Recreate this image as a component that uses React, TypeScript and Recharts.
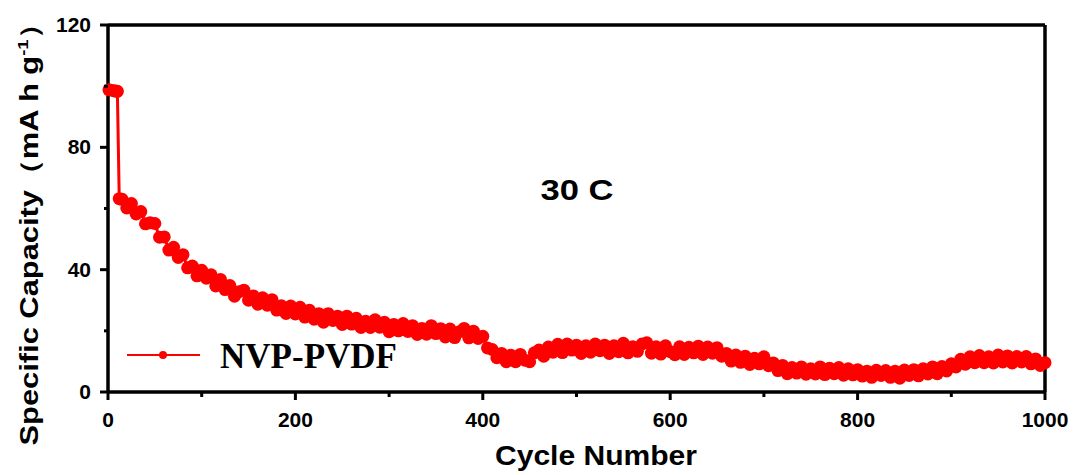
import { Customized, Line, LineChart, ReferenceLine, XAxis, YAxis } from "recharts"

const cycles = [
  1, 5, 8, 10, 12,
  15, 20, 25, 30, 35, 40, 45, 50, 55, 60,
  65, 70, 75, 80, 85, 90, 95, 100, 105, 110,
  115, 120, 125, 130, 135, 140, 145, 150, 155, 160,
  165, 170, 175, 180, 185, 190, 195, 200, 205, 210,
  215, 220, 225, 230, 235, 240, 245, 250, 255, 260,
  265, 270, 275, 280, 285, 290, 295, 300, 305, 310,
  315, 320, 325, 330, 335, 340, 345, 350, 355, 360,
  365, 370, 375, 380, 385, 390, 395, 400, 405, 410,
  415, 420, 425, 430, 435, 440, 445, 450, 455, 460,
  465, 470, 475, 480, 485, 490, 495, 500, 505, 510,
  515, 520, 525, 530, 535, 540, 545, 550, 555, 560,
  565, 570, 575, 580, 585, 590, 595, 600, 605, 610,
  615, 620, 625, 630, 635, 640, 645, 650, 655, 660,
  665, 670, 675, 680, 685, 690, 695, 700, 705, 710,
  715, 720, 725, 730, 735, 740, 745, 750, 755, 760,
  765, 770, 775, 780, 785, 790, 795, 800, 805, 810,
  815, 820, 825, 830, 835, 840, 845, 850, 855, 860,
  865, 870, 875, 880, 885, 890, 895, 900, 905, 910,
  915, 920, 925, 930, 935, 940, 945, 950, 955, 960,
  965, 970, 975, 980, 985, 990, 995, 1000,
]

const capacity = [
  98.8, 98.6, 98.4, 98.3, 63.2,
  63.0, 60.2, 61.6, 58.2, 59.0, 55.0, 55.3, 55.1, 50.6, 50.7,
  46.4, 47.3, 44.0, 44.9, 40.6, 41.2, 38.0, 39.8, 37.2, 38.3,
  34.7, 36.8, 33.5, 34.8, 31.3, 32.8, 33.3, 30.0, 31.4, 28.7,
  30.8, 28.4, 30.2, 26.8, 28.2, 25.7, 28.1, 25.5, 27.7, 24.5,
  26.7, 23.8, 25.6, 22.8, 25.6, 23.4, 24.8, 22.1, 24.8, 22.2,
  24.1, 21.1, 23.1, 21.1, 23.6, 21.2, 22.8, 19.7, 22.1, 20.0,
  22.4, 19.8, 21.7, 18.8, 20.8, 18.9, 21.7, 19.1, 20.7, 18.0,
  20.6, 17.8, 19.7, 20.8, 17.7, 19.9, 17.5, 18.2, 14.4, 13.9,
  11.2, 12.6, 9.9, 12.0, 9.9, 12.3, 10.4, 9.9, 12.8, 13.7,
  11.7, 14.7, 13.0, 15.6, 12.9, 15.7, 13.7, 15.3, 12.6, 15.1,
  13.0, 15.7, 13.5, 15.3, 12.6, 15.1, 13.2, 15.9, 12.8, 14.8,
  13.3, 15.7, 16.1, 12.7, 14.8, 12.4, 15.1, 13.2, 12.2, 14.8,
  12.3, 14.6, 12.8, 15.0, 12.3, 14.7, 12.7, 14.5, 11.7, 12.6,
  10.1, 12.1, 9.7, 11.7, 9.0, 11.0, 9.2, 11.5, 8.6, 9.5,
  7.0, 8.7, 6.0, 8.0, 6.2, 8.2, 5.8, 7.6, 5.9, 8.2,
  5.7, 7.8, 6.0, 8.0, 5.5, 7.6, 5.6, 7.3, 5.2, 6.8,
  4.8, 7.1, 5.4, 7.0, 4.8, 6.8, 4.5, 7.2, 5.4, 7.3,
  5.3, 7.6, 5.9, 8.2, 6.0, 8.3, 6.9, 9.2, 8.2, 10.7,
  9.1, 11.5, 9.6, 11.9, 9.6, 11.5, 9.5, 12.1, 9.8, 11.8,
  9.5, 11.6, 9.8, 11.6, 9.2, 10.8, 8.7, 9.6,
]

const xTicks = [0, 100, 200, 300, 400, 500, 600, 700, 800, 900, 1000]
const yTicks = [0, 20, 40, 60, 80, 100, 120]
const xLabeled = [0, 200, 400, 600, 800, 1000]
const yLabeled = [0, 40, 80, 120]

const data = cycles.map((c, i) => ({ cycle: c, capacity: capacity[i] }))

const sans = "'Liberation Sans', Arial, sans-serif"
const serif = "'Liberation Serif', 'Times New Roman', serif"
const red = "#ff0000"

// axis sits at x=108 / y=392 (tickSize and tickMargin are 0)
function renderYTick(props: any) {
  const { y, payload } = props
  const x = 108
  const major = yLabeled.includes(payload.value)
  return (
    <g key={"y" + payload.value}>
      <line x1={x - (major ? 8 : 4)} x2={x} y1={y} y2={y} stroke="#000" strokeWidth={3} />
      {major && (
        <text x={x - 17} y={y + 7} textAnchor="end" fontFamily={sans} fontWeight="bold" fontSize={21} fill="#000">
          {payload.value}
        </text>
      )}
    </g>
  )
}

function renderXTick(props: any) {
  const { x, payload } = props
  const y = 392
  const major = xLabeled.includes(payload.value)
  return (
    <g key={"x" + payload.value}>
      <line x1={x} x2={x} y1={y} y2={y + (major ? 8 : 5)} stroke="#000" strokeWidth={3} />
      {major && (
        <text x={x} y={y + 35} textAnchor="middle" fontFamily={sans} fontWeight="bold" fontSize={21} fill="#000">
          {payload.value}
        </text>
      )}
    </g>
  )
}

function Decorations() {
  return (
    <g>
      <text
        transform="translate(38, 227) rotate(-90)"
        textAnchor="middle"
        fontFamily={sans}
        fontWeight="bold"
        fontSize={25}
        fill="#000"
        textLength={437}
        lengthAdjust="spacingAndGlyphs"
      >
        Specific Capacity（mA h g
        <tspan fontSize={15} dy={-10}>-1</tspan>
        <tspan dy={10}>）</tspan>
      </text>
      <text
        x={596}
        y={465}
        textAnchor="middle"
        fontFamily={sans}
        fontWeight="bold"
        fontSize={27}
        fill="#000"
        textLength={202}
        lengthAdjust="spacingAndGlyphs"
      >
        Cycle Number
      </text>
      <text
        x={577}
        y={200}
        textAnchor="middle"
        fontFamily={sans}
        fontWeight="bold"
        fontSize={30}
        fill="#000"
        textLength={73}
        lengthAdjust="spacingAndGlyphs"
      >
        30 C
      </text>
      <line x1={127} x2={200} y1={355} y2={355} stroke={red} strokeWidth={2} />
      <circle cx={163} cy={355} r={4} fill={red} />
      <text x={220} y={368} fontFamily={serif} fontWeight="bold" fontSize={36} fill="#000" textLength={177} lengthAdjust="spacingAndGlyphs">
        NVP-PVDF
      </text>
    </g>
  )
}

export default function App() {
  return (
    <div style={{ position: "absolute", left: 0, top: 0, background: "#fff" }}>
      <LineChart width={1075} height={475} data={data} margin={{ top: 25, right: 30, left: 0, bottom: 0 }}>
        <XAxis
          dataKey="cycle"
          type="number"
          domain={[0, 1000]}
          ticks={xTicks}
          height={83}
          tickSize={0}
          tickMargin={0}
          tickLine={false}
          axisLine={{ stroke: "#000", strokeWidth: 3.5 }}
          tick={renderXTick}
          interval={0}
        />
        <YAxis
          type="number"
          domain={[0, 120]}
          ticks={yTicks}
          width={108}
          tickSize={0}
          tickMargin={0}
          tickLine={false}
          axisLine={{ stroke: "#000", strokeWidth: 3.5 }}
          tick={renderYTick}
          interval={0}
        />
        <Line
          dataKey="capacity"
          stroke={red}
          strokeWidth={3}
          dot={{ r: 6.5, fill: red, stroke: red, strokeWidth: 0 }}
          isAnimationActive={false}
        />
        <ReferenceLine y={120} stroke="#000" strokeWidth={3.5} />
        <ReferenceLine x={1000} stroke="#000" strokeWidth={3.5} />
        <Customized component={Decorations} />
      </LineChart>
    </div>
  )
}
